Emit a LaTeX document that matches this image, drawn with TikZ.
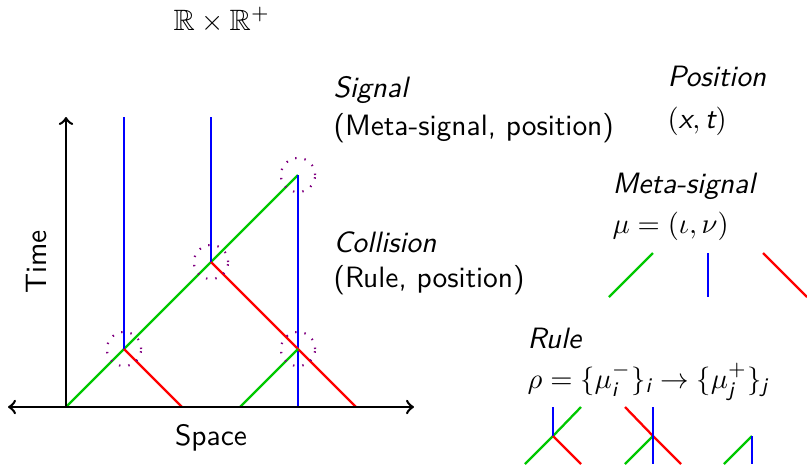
\documentclass[tikz,border=0pt]{standalone}
\usepackage{amsmath,amssymb}
\newcommand\sfit[1]{\text{\sffamily\itshape #1}}
\definecolor{sgreen}{RGB}{0,200,0}
\definecolor{sblue}{RGB}{0,0,255}
\definecolor{sred}{RGB}{255,0,0}
\tikzset{
  axis/.style={black, line width=0.9pt},
  gsig/.style={sgreen, line width=0.8pt},
  bsig/.style={sblue, line width=0.8pt},
  rsig/.style={sred, line width=0.8pt},
  colring/.style={violet, line width=0.75pt, dash pattern=on 0.5pt off 2.8pt},
  lbl/.style={anchor=base west, inner sep=0pt},
}
\begin{document}
\begin{tikzpicture}[x=0.35pt, y=-0.35pt, font=\sffamily\fontsize{10.3}{12}\selectfont]
\useasboundingbox (0,0) rectangle (807,464);

% title
\node[lbl] (title) at (173,30) {$\mathbb{R}\times\mathbb{R}^{+}$};

% space-time diagram
\begin{scope}[shift={(66,407)}, x=10.15pt, y=10.15pt]
  \coordinate (O) at (0,0);
  \coordinate (xl) at (-2,0);
  \coordinate (xr) at (12,0);
  \coordinate (tt) at (0,10);
  \coordinate (c1) at (2,2);
  \coordinate (c2) at (5,5);
  \coordinate (c3) at (8,8);
  \coordinate (c4) at (8,2);
  \coordinate (b1) at (2,10);
  \coordinate (b2) at (5,10);
  \coordinate (b3) at (8,0);
  \coordinate (r1) at (4,0);
  \coordinate (r2) at (10,0);
  \coordinate (g2) at (6,0);
  \draw[gsig] (O) -- (c1) -- (c2) -- (c3);
  \draw[bsig] (b1) -- (c1);
  \draw[bsig] (b2) -- (c2);
  \draw[bsig] (c3) -- (c4) -- (b3);
  \draw[rsig] (c1) -- (r1);
  \draw[rsig] (c2) -- (c4) -- (r2);
  \draw[gsig] (g2) -- (c4);
  \foreach \c in {c1,c2,c3,c4} \draw[colring] (\c) circle (0.59);
  \draw[axis,<->] (xl) -- (xr);
  \draw[axis,->] (O) -- (tt);
  \node[rotate=90] (time) at (-1,5) {Time};
  \node (space) at (5,-1.05) {Space};
\end{scope}

% texts
\node[lbl] (sig) at (333,97) {\itshape Signal};
\node[lbl] (sigd) at (333,135) {(Meta-signal, position)};
\node[lbl] (col) at (333,252) {\itshape Collision};
\node[lbl] (cold) at (333,287) {(Rule, position)};
\node[lbl] (pos) at (667,86) {\itshape Position};
\node[lbl] (posd) at (667,128) {$(\sfit{x},\sfit{t})$};
\node[lbl] (ms) at (612,193) {\itshape Meta-signal};
\node[lbl] (msd) at (612,233) {$\mu=(\iota,\nu)$};
\node[lbl] (rule) at (527,348) {\itshape Rule};
\node[lbl] (ruled) at (527,388) {$\rho=\{\mu_{\sfit{i}}^{-}\}_{\sfit{i}}\rightarrow\{\mu_{\sfit{j}}^{+}\}_{\sfit{j}}$};

% meta-signal glyphs
\coordinate (mg0) at (609,297); \coordinate (mg1) at (653,253);
\coordinate (mb0) at (708,253); \coordinate (mb1) at (708,297);
\coordinate (mr0) at (763,253); \coordinate (mr1) at (807,297);
\draw[gsig] (mg0) -- (mg1);
\draw[bsig] (mb0) -- (mb1);
\draw[rsig] (mr0) -- (mr1);

% rule glyphs
\coordinate (ra) at (553,436);
\coordinate (ra1) at (525,464); \coordinate (ra2) at (581,407);
\coordinate (ra3) at (553,407); \coordinate (ra4) at (581,464);
\draw[gsig] (ra1) -- (ra) -- (ra2);
\draw[bsig] (ra) -- (ra3);
\draw[rsig] (ra) -- (ra4);

\coordinate (rb) at (653,436);
\coordinate (rb1) at (625,407); \coordinate (rb2) at (681,464);
\coordinate (rb3) at (625,464);
\coordinate (rb4) at (653,407); \coordinate (rb5) at (653,464);
\draw[rsig] (rb1) -- (rb) -- (rb2);
\draw[gsig] (rb3) -- (rb);
\draw[bsig] (rb4) -- (rb5);

\coordinate (rc) at (752,436);
\coordinate (rc1) at (724,464); \coordinate (rc2) at (752,464);
\draw[gsig] (rc1) -- (rc);
\draw[bsig] (rc) -- (rc2);
\end{tikzpicture}
\end{document}
